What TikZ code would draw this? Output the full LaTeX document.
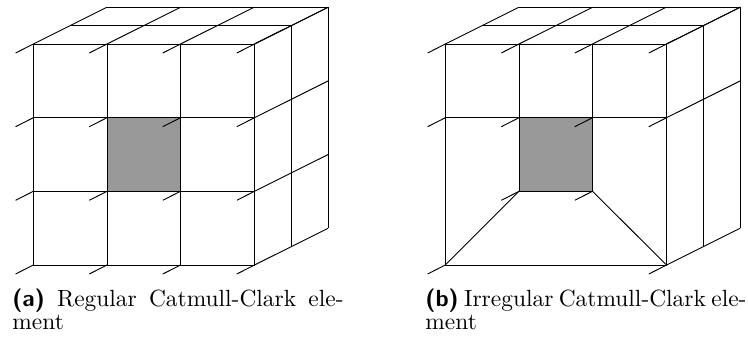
\documentclass[tikz,border=0pt]{standalone}
\usepackage{amsmath}
\tikzset{
    shaded/.style={fill=black!40},
    caption/.style={anchor=north west, inner sep=0pt, align=justify, font=\fontsize{10}{10}\selectfont}
}
\begin{document}
\begin{tikzpicture}[x=0.015cm, y=-0.015cm]
    \useasboundingbox (0,0) rectangle (748,336);
    % Left element, regular.
        \fill[shaded] (107,117.7) rectangle (180.5,191.3);
        \foreach \x in {33.3,107,180.5,254.5} {
            \draw (\x,44) -- (\x,265);
            \foreach \y in {44,117.7,191.3,265} {
                \draw (\x,\y) -- ++(-17.7,9);
            }
            \draw (\x,44) -- ++(73.5,-36.7);
        }
        \foreach \y in {44,117.7,191.3,265} {
            \draw (33.3,\y) -- (254.5,\y);
            \draw (254.5,\y) -- ++(73.5,-36.7);
        }
    % This draws the top and side of the back.
        \draw (107,7.3) -- (328,7.3) -- (328,228.3);
        \draw (70,25.7) -- (291,25.7) -- (291,246.7);
    % Right element, irregular.
    \begin{scope}[xshift=6.18cm]
        \fill[shaded] (107,117.7) rectangle (180.5,191.3);
        \draw (33.3,44) rectangle (254.5,265);
        \draw (33.3,117.7) -- (254.5,117.7);
        \foreach \x in {107,180.5} {
            \draw (\x,44) -- (\x,191.3);
            \draw (\x,191.3) -- ++(-17.7,9);
        }
        \draw (107,191.3) -- (180.5,191.3);
        \foreach \x in {33.3,107,180.5,254.5} {
            \foreach \y in {44,117.7} {
                \draw (\x,\y) -- ++(-17.7,9);
            }
            \draw (\x,44) -- ++(73.5,-36.7);
        }
        \foreach \x in {33.3,254.5} {
            \draw (\x,265) -- ++(-17.7,9);
        }
        \foreach \y in {44,117.7,265} {
            \draw (254.5,\y) -- ++(73.5,-36.7);
        }
        % The two slanted lines.
            \draw (33.3,265) -- (107,191.3);
            \draw (254.5,265) -- (180.5,191.3);
        \draw (107,7.3) -- (328,7.3) -- (328,228.3);
        \draw (70,25.7) -- (291,25.7) -- (291,246.7);
    \end{scope}
    % Below nodes are the captions.
        \node[caption, text width=141.3pt] (capa) at (12,288.5) {\textsf{\textbf{(a)}} Regular Catmull-Clark ele\-ment};
        \node[caption, text width=137pt] (capb) at (425,288.5) {\textsf{\textbf{(b)}} Irregular Catmull-Clark ele\-ment};
\end{tikzpicture}
\end{document}
